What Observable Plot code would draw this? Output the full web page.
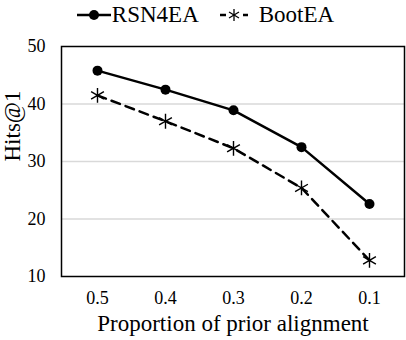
<!DOCTYPE html>
<html><head><meta charset="utf-8">
<script src="https://cdn.jsdelivr.net/npm/d3@7"></script>
<script src="https://cdn.jsdelivr.net/npm/@observablehq/plot@0.6"></script>
<style>
body{margin:0;background:#fff;font-family:"Liberation Serif","Times New Roman",serif;}
#legend{height:30px;display:flex;justify-content:center;align-items:center;font-family:"Liberation Serif","Times New Roman",serif;font-size:23px;color:#000;padding-left:5px;box-sizing:border-box}
.item{display:flex;align-items:center}
</style></head><body>
<div id="legend"></div>
<div id="chart"></div>
<script>
const proportions = ["0.5","0.4","0.3","0.2","0.1"];
const rsn4ea = [45.8, 42.5, 38.9, 32.5, 22.6];
const bootea = [41.5, 37.0, 32.3, 25.4, 12.8];
const yTicks = [10, 20, 30, 40, 50];
const seriesNames = ["RSN4EA", "BootEA"];
const xTitle = "Proportion of prior alignment";
const yTitle = "Hits@1";

const rsnData = proportions.map((p, i) => ({p, v: rsn4ea[i]}));
const bootData = proportions.map((p, i) => ({p, v: bootea[i]}));

// legend
const legend = document.getElementById("legend");
legend.innerHTML = `
<span class="item"><svg width="34" height="20" style="margin-right:1px"><line x1="0" y1="10" x2="34" y2="10" stroke="#000" stroke-width="2.5"/><circle cx="17" cy="10" r="5" fill="#000"/></svg>${seriesNames[0]}</span>
<span class="item" style="margin-left:21px"><svg width="29" height="20" style="margin-right:10px"><g stroke="#000" stroke-width="2.5"><line x1="0" y1="10" x2="6" y2="10"/><line x1="23" y1="10" x2="28" y2="10"/></g><g stroke="#000" stroke-width="1.3"><line x1="14" y1="4" x2="14" y2="16"/><line x1="9" y1="7" x2="19" y2="13"/><line x1="9" y1="13" x2="19" y2="7"/></g></svg>${seriesNames[1]}</span>`;

const chart = Plot.plot({
  width: 406,
  height: 310,
  marginTop: 16,
  marginBottom: 64,
  marginLeft: 61,
  marginRight: 2,
  style: {fontFamily: "'Liberation Serif', 'Times New Roman', serif", fontSize: "18px", color: "#000", background: "#fff"},
  x: {type: "point", domain: proportions, padding: 0.5},
  y: {domain: [10, 50]},
  marks: [
    Plot.gridY(yTicks.slice(1, -1), {stroke: "#d9d9d9", strokeOpacity: 1, strokeWidth: 1.5}),
    Plot.lineY(bootData, {x: "p", y: "v", stroke: "#000", strokeWidth: 2.5, strokeDasharray: "9,6"}),
    Plot.lineY(rsnData, {x: "p", y: "v", stroke: "#000", strokeWidth: 2.5}),
    Plot.dot(rsnData, {x: "p", y: "v", fill: "#000", r: 5}),
    Plot.dot(bootData, {x: "p", y: "v", symbol: "asterisk", stroke: "#000", strokeWidth: 1.4, r: 7}),
    Plot.frame({stroke: "#000", strokeWidth: 1.5}),
    Plot.axisY(yTicks, {tickSize: 0, tickPadding: 16, fontSize: 18, label: null}),
    Plot.axisX({tickSize: 0, tickPadding: 15, fontSize: 18, label: null}),
    Plot.text([xTitle], {frameAnchor: "bottom", dy: 47, fontSize: 23, lineAnchor: "middle"}),
    Plot.text([yTitle], {frameAnchor: "left", dx: -49, rotate: -90, fontSize: 23, lineAnchor: "middle"})
  ]
});
document.getElementById("chart").appendChild(chart);
</script>
</body></html>
